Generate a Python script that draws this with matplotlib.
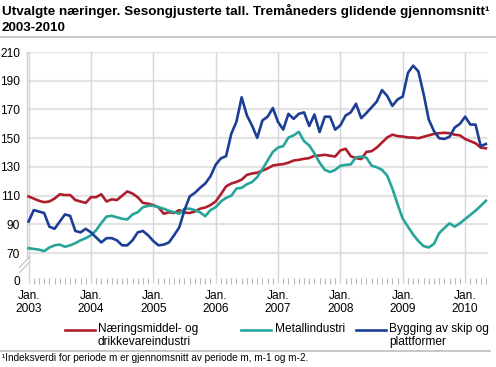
import matplotlib
matplotlib.use("Agg")
import matplotlib.pyplot as plt
from matplotlib.lines import Line2D
import numpy as np

plt.rcParams['font.family'] = ['Liberation Sans', 'DejaVu Sans']

years = [2003, 2004, 2005, 2006, 2007, 2008, 2009, 2010]
tick_labels = [f"Jan.\n{y}" for y in years]
series_names = ["Næringsmiddel- og\ndrikkevareindustri", "Metallindustri", "Bygging av skip og\nplattformer"]
colors = ["#ad1f2c", "#27a59b", "#1c3e94"]

# Monthly values, Jan 2003 - May 2010
naering = [109.5, 108, 106.5, 105.5, 106, 108, 111, 110.5, 110.5, 107, 106, 105,
           109, 109, 111, 106, 107.5, 107, 110, 113, 111.5, 109, 105, 104.5,
           103.5, 102, 97.5, 98.5, 98, 100, 98.3, 98, 99, 101, 101.8, 103.5,
           106, 111, 116.5, 118.5, 119.6, 121.2, 124.5, 125.5, 126, 127.5, 129, 131,
           131.6, 132, 133, 134.5, 135, 135.7, 136.2, 137.8, 138, 138.5, 137.8, 137.3,
           141.5, 142.7, 137.5, 136.2, 135.5, 140.5, 141, 143.5, 147, 150.5, 152.5, 151.5,
           151.2, 150.5, 150.5, 150, 151, 152, 153, 153.5, 153.8, 153.5, 152.5, 152,
           149.5, 148, 146.5, 143.5, 143]
metall = [73.5, 73, 72.5, 71.5, 74, 75.5, 76, 74.5, 75.5, 77, 79, 80.5,
          82.5, 86, 91, 95.5, 96, 95, 94, 93.5, 97, 98.5, 102, 103,
          103, 102, 101, 99.5, 98.5, 97.5, 101, 101, 100, 98.5, 95.8, 100,
          102, 106, 108.5, 110, 115, 115.5, 118, 119.5, 123, 128.5, 134.5, 140.5,
          143.5, 144.5, 150.5, 152, 154.5, 148, 145, 139.5, 133, 128, 126.5, 128,
          130.8, 131.5, 131.8, 136.8, 137.2, 136.5, 131, 129.8, 128, 124, 115, 104,
          94, 88.5, 83, 78.5, 75, 74, 76.5, 84, 87.5, 90.8, 88.5, 90.8,
          93.8, 96.7, 99.6, 103, 106.5]
skip = [92, 100, 99, 98, 88.5, 87, 92, 97, 96, 85.5, 84.5, 87,
        84.5, 81, 77.5, 80.5, 80.5, 79, 75.5, 75.5, 79, 84.5, 85.5, 82.5,
        78.5, 75.5, 76, 77.5, 82.5, 88, 100, 109.5, 112, 115.5, 118.5, 123.5,
        131.5, 136, 137.5, 153, 161.5, 178.5, 166, 158.8, 150.3, 162.4, 165, 171,
        161.3, 156, 167, 163.5, 167, 168, 158.5, 166.5, 154.3, 165, 165, 156,
        159, 165.8, 168, 174, 164, 167.5, 171.5, 175.5, 183.5, 179.5, 172.5, 177,
        179, 195.5, 200.5, 196.5, 181, 163, 155, 150, 149.5, 151, 157.5, 160,
        165, 159.5, 159.5, 144.5, 146]

y_ticks = [70, 90, 110, 130, 150, 170, 190, 210]
y_bottom = 48.6

W, H = 496, 367
fig = plt.figure(figsize=(W / 100, H / 100), dpi=100)
ax = fig.add_axes([27 / W, 1 - 284 / H, (488 - 27) / W, (284 - 52) / H])

months = np.arange(len(naering))
ax.set_xlim(-0.3, 88.4)
ax.set_ylim(y_bottom, 210)

for v in y_ticks:
    ax.axhline(v, color="#e3e3e3", lw=1.6, zorder=0)
jan_pos = [12 * i for i in range(len(years))]
for xp in jan_pos:
    ax.axvline(xp, color="#d6d6de", lw=1.0, zorder=0)

for vals, c in zip([naering, metall, skip], colors):
    ax.plot(months, vals, color=c, lw=1.9, solid_joinstyle="round", zorder=3)

for s in ["top", "right", "bottom", "left"]:
    ax.spines[s].set_visible(False)

# left axis line with break
ax.plot([-0.3, -0.3], [67.5, 210], color="#cfcfcf", lw=1.0, clip_on=False, zorder=1)
tr = ax.transAxes
for dy in (0.0, 0.022):
    ax.plot([-0.016, 0.006], [0.05 + dy, 0.095 + dy], transform=tr, color="#c8c8c8",
            lw=1.0, clip_on=False)

ax.set_yticks([y_bottom + 2.2] + y_ticks)
ax.set_yticklabels(["0"] + [str(v) for v in y_ticks])
ax.tick_params(axis="y", length=0, pad=5, labelsize=8.6, colors="#000000")

ax.set_xticks(jan_pos)
ax.set_xticklabels(tick_labels)
ax.set_xticks(np.arange(0, 89), minor=True)
ax.tick_params(axis="x", which="major", length=0, pad=4, labelsize=8.6)
ax.tick_params(axis="x", which="minor", direction="in", length=4, width=0.8, color="#b8b8b8")

# title
fig.text(2 / W, 1 - 4 / H, "Utvalgte næringer. Sesongjusterte tall. Tremåneders glidende gjennomsnitt¹",
         fontsize=9.7, fontweight="bold", ha="left", va="top")
fig.text(2 / W, 1 - 22 / H, "2003-2010", fontsize=9.7, fontweight="bold", ha="left", va="top")
fig.add_artist(Line2D([0, 1], [1 - 37 / H, 1 - 37 / H], transform=fig.transFigure,
                      color="#bdbdbd", lw=1.2))

# legend
leg_items = [(65, 95, 98), (241, 271, 275), (356, 386, 389)]
for (x0, x1, xt), name, c in zip(leg_items, series_names, colors):
    yl = 1 - 330 / H
    fig.add_artist(Line2D([x0 / W, x1 / W], [yl, yl], transform=fig.transFigure, color=c, lw=1.9))
    fig.text(xt / W, 1 - 323 / H, name, fontsize=8.6, ha="left", va="top", linespacing=1.1)

fig.add_artist(Line2D([0, 490 / W], [1 - 351 / H, 1 - 351 / H], transform=fig.transFigure,
                      color="#bdbdbd", lw=1.2))
fig.text(2 / W, 1 - 353 / H, "¹Indeksverdi for periode m er gjennomsnitt av periode m, m-1 og m-2.",
         fontsize=7.2, ha="left", va="top")

fig.savefig("out.png", dpi=100)
